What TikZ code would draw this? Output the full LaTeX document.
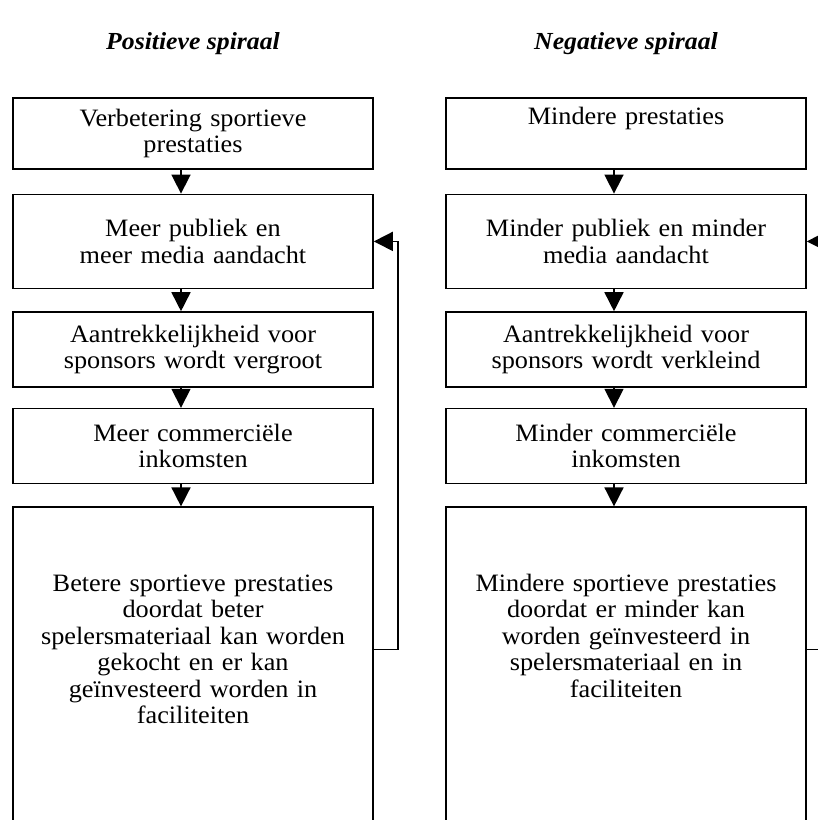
\documentclass[tikz,border=0pt]{standalone}
\usepackage{fontspec}
\setmainfont[FakeStretch=1.05]{Liberation Serif}
\usetikzlibrary{arrows.meta, positioning}
\tikzset{
    stepbox/.style={rectangle, draw=black, line width=1.6pt, minimum width=360pt, text width=350pt, align=center, inner sep=0pt, font=\fontsize{25}{26.5}\selectfont},
    titlelabel/.style={font=\fontsize{24.5}{27}\selectfont\bfseries\itshape},
    arrow/.style={-{Triangle[length=19pt,width=19pt]}, line width=1.6pt, black},
}
\begin{document}
\begin{tikzpicture}[x=1pt,y=1pt]
\useasboundingbox (0,0) rectangle (818,-820);

% Titles
\node[titlelabel] (tpos) at (193,-44) {Positieve spiraal};
\node[titlelabel] (tneg) at (626,-44) {Negatieve spiraal};

% Positive spiral
\node[stepbox,minimum height=71pt,anchor=north] (lb1) at (193,-97) {Verbetering sportieve\\prestaties};
\node[stepbox,minimum height=94pt,below=24pt of lb1] (lb2) {Meer publiek en\\meer media aandacht};
\node[stepbox,minimum height=75pt,below=22pt of lb2] (lb3) {Aantrekkelijkheid voor\\sponsors wordt vergroot};
\node[stepbox,minimum height=75pt,below=20pt of lb3] (lb4) {Meer commerci\"ele\\inkomsten};
\node[stepbox,text depth=360pt,below=22pt of lb4] (lb5) {\rule{0pt}{84pt}Betere sportieve prestaties\\doordat beter\\spelersmateriaal kan worden\\gekocht en er kan\\ge\"investeerd worden in\\faciliteiten};

% Negative spiral
\node[stepbox,minimum height=71pt,anchor=north] (rb1) at (626,-97) {Mindere prestaties\\\strut};
\node[stepbox,minimum height=94pt,below=24pt of rb1] (rb2) {Minder publiek en minder\\media aandacht};
\node[stepbox,minimum height=75pt,below=22pt of rb2] (rb3) {Aantrekkelijkheid voor\\sponsors wordt verkleind};
\node[stepbox,minimum height=75pt,below=20pt of rb3] (rb4) {Minder commerci\"ele\\inkomsten};
\node[stepbox,text depth=360pt,below=22pt of rb4] (rb5) {\rule{0pt}{84pt}Mindere sportieve prestaties\\doordat er minder kan\\worden ge\"investeerd in\\spelersmateriaal en in\\faciliteiten};

% Downward arrows
\foreach \s/\t in {lb1/lb2, lb2/lb3, lb3/lb4, lb4/lb5, rb1/rb2, rb2/rb3, rb3/rb4, rb4/rb5}
  \draw[arrow] ([xshift=-12pt]\s.south) -- ([xshift=-12pt]\t.north);

% Feedback loops
\coordinate (lloop) at ([xshift=24pt]lb2.east);
\coordinate (rloop) at ([xshift=24pt]rb2.east);
\draw[arrow] ([yshift=-143pt]lb5.north east) -| (lloop) -- (lb2.east);
\draw[arrow] ([yshift=-143pt]rb5.north east) -| (rloop) -- (rb2.east);
\end{tikzpicture}
\end{document}
